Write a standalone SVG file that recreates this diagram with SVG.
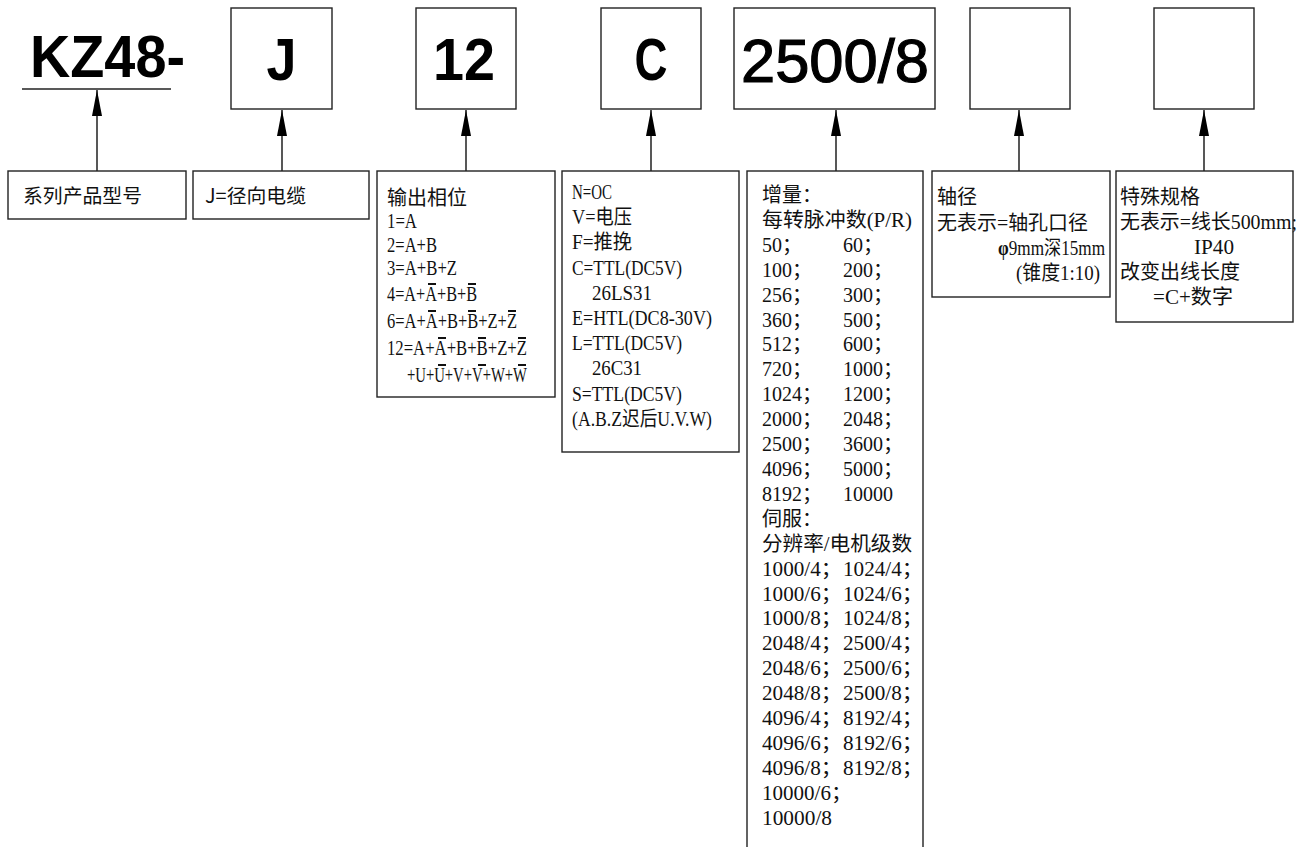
<svg xmlns="http://www.w3.org/2000/svg" width="1299" height="847" viewBox="0 0 1299 847">
<style>
.bx{fill:#fff;stroke:#222;stroke-width:1.4}
.cn{stroke:#111;stroke-width:1.4;fill:none}
.big{font-family:"Liberation Sans",Arial,sans-serif;font-weight:bold;font-size:60px;fill:#000}
.sn{font-family:"Noto Sans CJK SC","Liberation Sans",sans-serif;font-size:19.5px;fill:#111}
.t{font-family:"Liberation Serif","Noto Sans CJK SC",serif;font-size:20px;fill:#111}
.ov{stroke:#111;stroke-width:2}
</style>
<defs>
<marker id="ah" viewBox="0 0 26 10" refX="26" refY="5" markerWidth="26" markerHeight="10" markerUnits="userSpaceOnUse" orient="auto">
<path d="M0,0 L26,5 L0,10 z" fill="#000"/>
</marker>
</defs>

<g id="code-kz48">
<text class="big" x="30" y="77" textLength="155" lengthAdjust="spacingAndGlyphs">KZ48-</text>
<line x1="22" y1="89" x2="171" y2="89" stroke="#222" stroke-width="1.4"/>
</g>
<g id="code-j">
<rect class="bx" x="231" y="8" width="101" height="101"/>
<text class="big" x="281.5" y="80" text-anchor="middle" textLength="30" lengthAdjust="spacingAndGlyphs">J</text>
</g>
<g id="code-12">
<rect class="bx" x="416" y="8" width="100" height="101"/>
<text class="big" x="464" y="80" text-anchor="middle" textLength="62" lengthAdjust="spacingAndGlyphs">12</text>
</g>
<g id="code-c">
<rect class="bx" x="601" y="8" width="100" height="101"/>
<text class="big" x="651" y="80" text-anchor="middle" textLength="33" lengthAdjust="spacingAndGlyphs">C</text>
</g>
<g id="code-2500">
<rect class="bx" x="734" y="8" width="201" height="101"/>
<text class="big" x="835" y="82" text-anchor="middle" style="font-weight:normal;font-size:62px" stroke="#000" stroke-width="1.2" textLength="188" lengthAdjust="spacingAndGlyphs">2500/8</text>
</g>
<g id="code-empty1">
<rect class="bx" x="970" y="8" width="100" height="101"/>
</g>
<g id="code-empty2">
<rect class="bx" x="1154" y="8" width="100" height="101"/>
</g>

<g id="connectors">
<line class="cn" x1="97" y1="171" x2="97" y2="90" marker-end="url(#ah)"/>
<line class="cn" x1="282" y1="171" x2="282" y2="110" marker-end="url(#ah)"/>
<line class="cn" x1="466" y1="171" x2="466" y2="110" marker-end="url(#ah)"/>
<line class="cn" x1="651" y1="171" x2="651" y2="110" marker-end="url(#ah)"/>
<line class="cn" x1="836" y1="171" x2="836" y2="110" marker-end="url(#ah)"/>
<line class="cn" x1="1019" y1="171" x2="1019" y2="110" marker-end="url(#ah)"/>
<line class="cn" x1="1204" y1="171" x2="1204" y2="110" marker-end="url(#ah)"/>
</g>

<g id="desc-series">
<rect class="bx" x="8" y="171" width="178" height="48"/>
<text class="sn" x="23" y="203" textLength="119" lengthAdjust="spacingAndGlyphs">系列产品型号</text>
</g>
<g id="desc-cable">
<rect class="bx" x="193" y="171" width="176" height="48"/>
<text class="sn" x="205" y="203" textLength="101" lengthAdjust="spacingAndGlyphs">J=径向电缆</text>
</g>

<g id="desc-phase">
<rect class="bx" x="377" y="171" width="178" height="226"/>
<text class="t" x="387" y="205" textLength="80" lengthAdjust="spacingAndGlyphs">输出相位</text>
<text class="t" x="387" y="228" textLength="30" lengthAdjust="spacingAndGlyphs">1=A</text>
<text class="t" x="387" y="252" textLength="50" lengthAdjust="spacingAndGlyphs">2=A+B</text>
<text class="t" x="387" y="275" textLength="70" lengthAdjust="spacingAndGlyphs">3=A+B+Z</text>
<text class="t" x="387" y="301" textLength="90" lengthAdjust="spacingAndGlyphs">4=A+A+B+B</text>
<text class="t" x="387" y="328" textLength="130" lengthAdjust="spacingAndGlyphs">6=A+A+B+B+Z+Z</text>
<text class="t" x="387" y="355" textLength="140" lengthAdjust="spacingAndGlyphs">12=A+A+B+B+Z+Z</text>
<text class="t" x="407" y="382" textLength="120" lengthAdjust="spacingAndGlyphs">+U+U+V+V+W+W</text>
<g class="ov">
<line x1="428" y1="284" x2="436" y2="284"/>
<line x1="468" y1="284" x2="476" y2="284"/>
<line x1="428" y1="311" x2="436" y2="311"/>
<line x1="468" y1="311" x2="476" y2="311"/>
<line x1="508" y1="311" x2="516" y2="311"/>
<line x1="438" y1="338" x2="446" y2="338"/>
<line x1="478" y1="338" x2="486" y2="338"/>
<line x1="518" y1="338" x2="526" y2="338"/>
<line x1="438" y1="365" x2="446" y2="365"/>
<line x1="478" y1="365" x2="486" y2="365"/>
<line x1="518" y1="365" x2="526" y2="365"/>
</g>
</g>

<g id="desc-output">
<rect class="bx" x="562" y="171" width="177" height="281"/>
<text class="t" x="572" y="199" textLength="40" lengthAdjust="spacingAndGlyphs">N=OC</text>
<text class="t" x="572" y="224" textLength="60" lengthAdjust="spacingAndGlyphs">V=电压</text>
<text class="t" x="572" y="249" textLength="60" lengthAdjust="spacingAndGlyphs">F=推挽</text>
<text class="t" x="572" y="275" textLength="110" lengthAdjust="spacingAndGlyphs">C=TTL(DC5V)</text>
<text class="t" x="592" y="300" textLength="60" lengthAdjust="spacingAndGlyphs">26LS31</text>
<text class="t" x="572" y="325" textLength="140" lengthAdjust="spacingAndGlyphs">E=HTL(DC8-30V)</text>
<text class="t" x="572" y="350" textLength="110" lengthAdjust="spacingAndGlyphs">L=TTL(DC5V)</text>
<text class="t" x="592" y="375" textLength="50" lengthAdjust="spacingAndGlyphs">26C31</text>
<text class="t" x="572" y="401" textLength="110" lengthAdjust="spacingAndGlyphs">S=TTL(DC5V)</text>
<text class="t" x="572" y="426" textLength="140" lengthAdjust="spacingAndGlyphs">(A.B.Z迟后U.V.W)</text>
</g>

<g id="desc-resolution">
<rect class="bx" x="747" y="171" width="176" height="700"/>
<text class="t" x="762" y="202" textLength="60" lengthAdjust="spacingAndGlyphs">增量：</text>
<text class="t" x="762" y="227" textLength="150" lengthAdjust="spacingAndGlyphs">每转脉冲数(P/R)</text>
<text class="t" x="762" y="252" textLength="40" lengthAdjust="spacingAndGlyphs">50；</text>
<text class="t" x="843" y="252" textLength="40" lengthAdjust="spacingAndGlyphs">60；</text>
<text class="t" x="762" y="277" textLength="50" lengthAdjust="spacingAndGlyphs">100；</text>
<text class="t" x="843" y="277" textLength="50" lengthAdjust="spacingAndGlyphs">200；</text>
<text class="t" x="762" y="302" textLength="50" lengthAdjust="spacingAndGlyphs">256；</text>
<text class="t" x="843" y="302" textLength="50" lengthAdjust="spacingAndGlyphs">300；</text>
<text class="t" x="762" y="327" textLength="50" lengthAdjust="spacingAndGlyphs">360；</text>
<text class="t" x="843" y="327" textLength="50" lengthAdjust="spacingAndGlyphs">500；</text>
<text class="t" x="762" y="351" textLength="50" lengthAdjust="spacingAndGlyphs">512；</text>
<text class="t" x="843" y="351" textLength="50" lengthAdjust="spacingAndGlyphs">600；</text>
<text class="t" x="762" y="376" textLength="50" lengthAdjust="spacingAndGlyphs">720；</text>
<text class="t" x="843" y="376" textLength="60" lengthAdjust="spacingAndGlyphs">1000；</text>
<text class="t" x="762" y="401" textLength="60" lengthAdjust="spacingAndGlyphs">1024；</text>
<text class="t" x="843" y="401" textLength="60" lengthAdjust="spacingAndGlyphs">1200；</text>
<text class="t" x="762" y="426" textLength="60" lengthAdjust="spacingAndGlyphs">2000；</text>
<text class="t" x="843" y="426" textLength="60" lengthAdjust="spacingAndGlyphs">2048；</text>
<text class="t" x="762" y="451" textLength="60" lengthAdjust="spacingAndGlyphs">2500；</text>
<text class="t" x="843" y="451" textLength="60" lengthAdjust="spacingAndGlyphs">3600；</text>
<text class="t" x="762" y="476" textLength="60" lengthAdjust="spacingAndGlyphs">4096；</text>
<text class="t" x="843" y="476" textLength="60" lengthAdjust="spacingAndGlyphs">5000；</text>
<text class="t" x="762" y="501" textLength="60" lengthAdjust="spacingAndGlyphs">8192；</text>
<text class="t" x="843" y="501" textLength="50" lengthAdjust="spacingAndGlyphs">10000</text>
<text class="t" x="762" y="526" textLength="60" lengthAdjust="spacingAndGlyphs">伺服：</text>
<text class="t" x="762" y="551" textLength="150" lengthAdjust="spacingAndGlyphs">分辨率/电机级数</text>
<text class="t" x="762" y="576" textLength="80" lengthAdjust="spacingAndGlyphs">1000/4；</text>
<text class="t" x="843" y="576" textLength="80" lengthAdjust="spacingAndGlyphs">1024/4；</text>
<text class="t" x="762" y="601" textLength="80" lengthAdjust="spacingAndGlyphs">1000/6；</text>
<text class="t" x="843" y="601" textLength="80" lengthAdjust="spacingAndGlyphs">1024/6；</text>
<text class="t" x="762" y="625" textLength="80" lengthAdjust="spacingAndGlyphs">1000/8；</text>
<text class="t" x="843" y="625" textLength="80" lengthAdjust="spacingAndGlyphs">1024/8；</text>
<text class="t" x="762" y="650" textLength="80" lengthAdjust="spacingAndGlyphs">2048/4；</text>
<text class="t" x="843" y="650" textLength="80" lengthAdjust="spacingAndGlyphs">2500/4；</text>
<text class="t" x="762" y="675" textLength="80" lengthAdjust="spacingAndGlyphs">2048/6；</text>
<text class="t" x="843" y="675" textLength="80" lengthAdjust="spacingAndGlyphs">2500/6；</text>
<text class="t" x="762" y="700" textLength="80" lengthAdjust="spacingAndGlyphs">2048/8；</text>
<text class="t" x="843" y="700" textLength="80" lengthAdjust="spacingAndGlyphs">2500/8；</text>
<text class="t" x="762" y="725" textLength="80" lengthAdjust="spacingAndGlyphs">4096/4；</text>
<text class="t" x="843" y="725" textLength="80" lengthAdjust="spacingAndGlyphs">8192/4；</text>
<text class="t" x="762" y="750" textLength="80" lengthAdjust="spacingAndGlyphs">4096/6；</text>
<text class="t" x="843" y="750" textLength="80" lengthAdjust="spacingAndGlyphs">8192/6；</text>
<text class="t" x="762" y="775" textLength="80" lengthAdjust="spacingAndGlyphs">4096/8；</text>
<text class="t" x="843" y="775" textLength="80" lengthAdjust="spacingAndGlyphs">8192/8；</text>
<text class="t" x="762" y="800" textLength="90" lengthAdjust="spacingAndGlyphs">10000/6；</text>
<text class="t" x="762" y="825" textLength="70" lengthAdjust="spacingAndGlyphs">10000/8</text>
</g>

<g id="desc-shaft">
<rect class="bx" x="932" y="171" width="178" height="126"/>
<text class="t" x="937" y="204" textLength="40" lengthAdjust="spacingAndGlyphs">轴径</text>
<text class="t" x="937" y="230" textLength="151" lengthAdjust="spacingAndGlyphs">无表示=轴孔口径</text>
<text class="t" x="998" y="255" textLength="107" lengthAdjust="spacingAndGlyphs"><tspan font-weight="bold">φ</tspan>9mm深15mm</text>
<text class="t" x="1016" y="280" textLength="84" lengthAdjust="spacingAndGlyphs">(锥度1:10)</text>
</g>

<g id="desc-special">
<rect class="bx" x="1116" y="171" width="177" height="151"/>
<text class="t" x="1120" y="204" textLength="80" lengthAdjust="spacingAndGlyphs">特殊规格</text>
<text class="t" x="1120" y="229" textLength="177" lengthAdjust="spacingAndGlyphs">无表示=线长500mm;</text>
<text class="t" x="1194" y="254" textLength="40" lengthAdjust="spacingAndGlyphs">IP40</text>
<text class="t" x="1120" y="279" textLength="120" lengthAdjust="spacingAndGlyphs">改变出线长度</text>
<text class="t" x="1153" y="304" textLength="80" lengthAdjust="spacingAndGlyphs">=C+数字</text>
</g>
</svg>
